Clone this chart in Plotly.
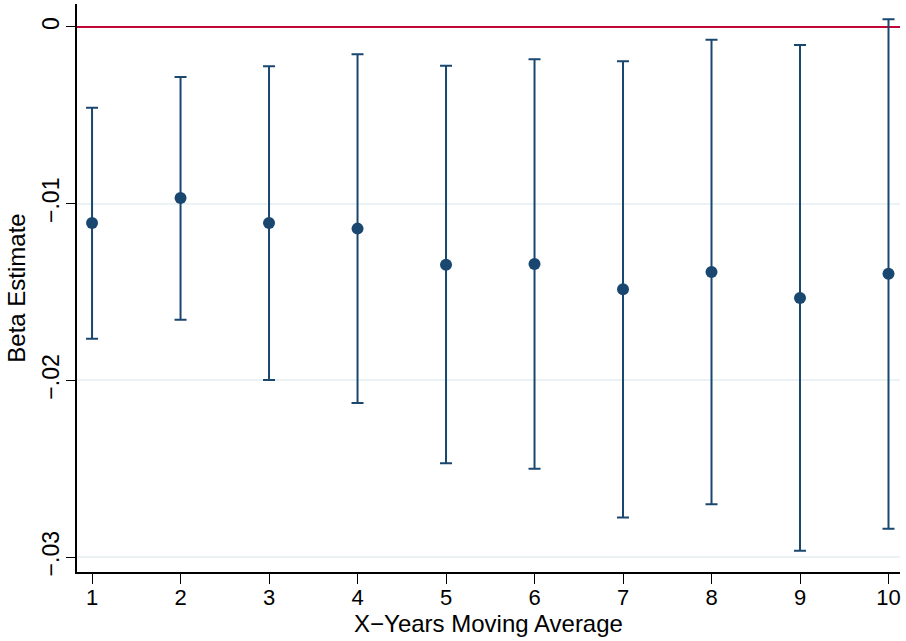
import plotly.graph_objects as go

years = [1, 2, 3, 4, 5, 6, 7, 8, 9, 10]
beta = [-0.01109, -0.00968, -0.01109, -0.01141, -0.01345, -0.01341, -0.01484, -0.01387, -0.01534, -0.01396]
ci_hi = [-0.00457, -0.00283, -0.00222, -0.00155, -0.00219, -0.00183, -0.00194, -0.00072, -0.00102, 0.00044]
ci_lo = [-0.01764, -0.01656, -0.01998, -0.02128, -0.02469, -0.02500, -0.02775, -0.02701, -0.02964, -0.02839]

y_tickvals = [0, -0.01, -0.02, -0.03]
y_ticktext = ["0", "\u2212.01", "\u2212.02", "\u2212.03"]

navy = "#1a476f"
font = "Liberation Sans, Arial, sans-serif"

fig = go.Figure()
fig.add_trace(go.Scatter(
    x=years, y=beta, mode="markers",
    marker=dict(color=navy, size=12),
    error_y=dict(type="data", symmetric=False,
                 array=[h - b for h, b in zip(ci_hi, beta)],
                 arrayminus=[b - l for b, l in zip(beta, ci_lo)],
                 color=navy, thickness=2, width=6),
    showlegend=False,
))

fig.update_layout(
    width=906, height=641,
    margin=dict(l=77, r=6, t=4, b=69),
    paper_bgcolor="white", plot_bgcolor="white",
    font=dict(family=font, size=20, color="black"),
    xaxis=dict(range=[0.83, 10.13], tickvals=years, ticks="outside", ticklen=10,
               tickcolor="black", showline=True, linecolor="black", linewidth=1.5,
               tickfont=dict(size=22), ticklabelstandoff=-5,
               showgrid=False, zeroline=False,
               title=dict(text="X\u2212Years Moving Average", standoff=0)),
    yaxis=dict(range=[-0.03084, 0.0013], tickvals=y_tickvals, ticktext=y_ticktext,
               tickangle=-90, ticks="outside", ticklen=9, tickcolor="black",
               tickfont=dict(size=23), ticklabelstandoff=-2,
               showline=True, linecolor="black", linewidth=1.5,
               showgrid=True, gridcolor="#eaf2f3", gridwidth=2,
               zeroline=True, zerolinecolor="#c10534", zerolinewidth=2,
               title=dict(text="Beta Estimate", standoff=6)),
)

fig.write_html("out.html")
